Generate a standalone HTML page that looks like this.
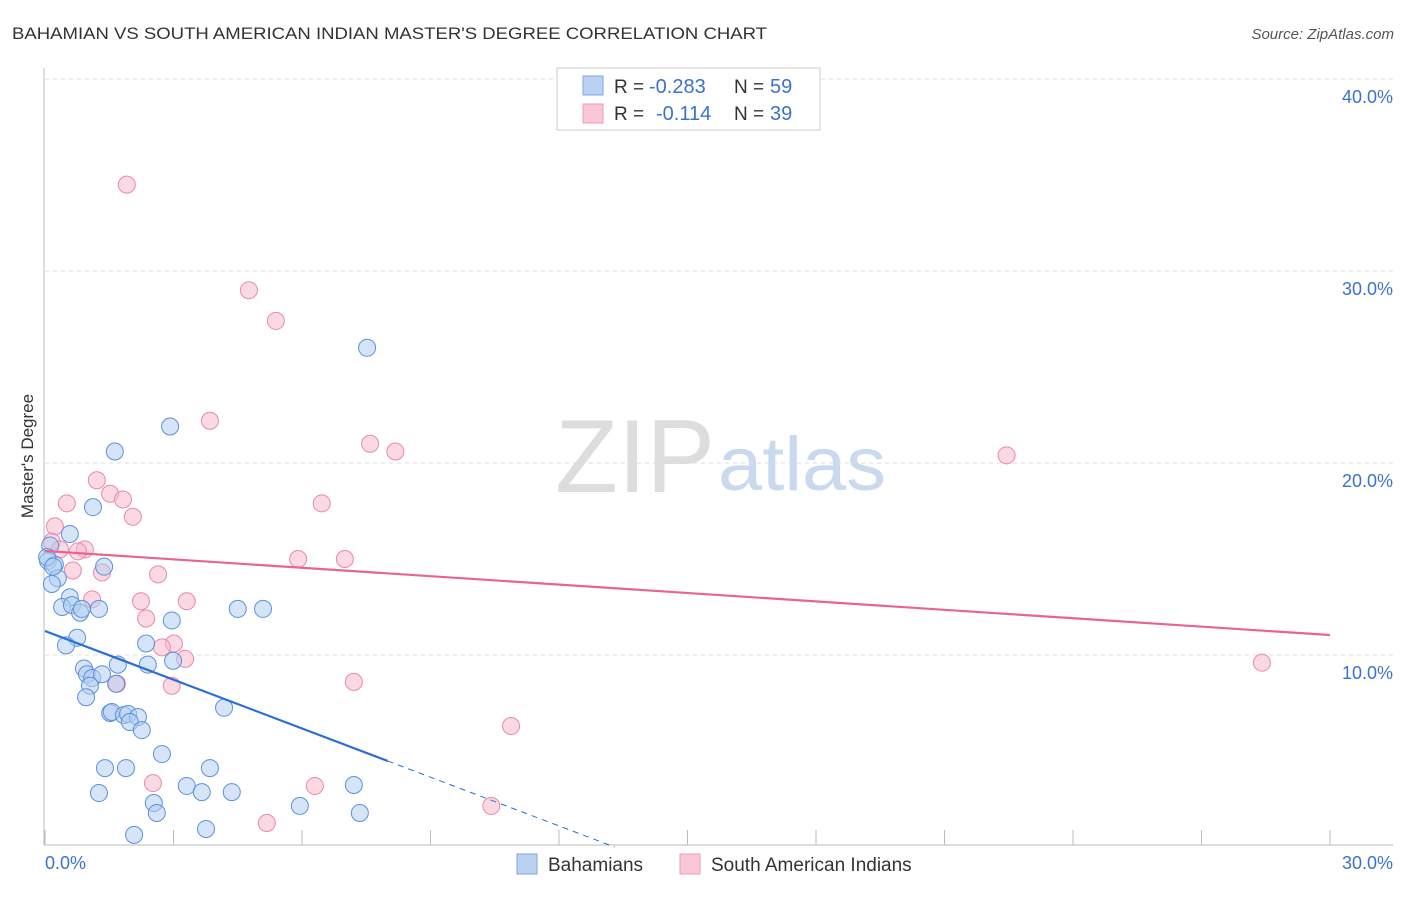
<!DOCTYPE html>
<html><head><meta charset="utf-8"><style>
body{margin:0;background:#fff;font-family:"Liberation Sans",sans-serif}
svg text{font-family:"Liberation Sans",sans-serif}
</style></head><body>
<svg id="chart" width="1406" height="892" xmlns="http://www.w3.org/2000/svg">
<text x="12" y="39" font-size="17" fill="#333" textLength="755" lengthAdjust="spacingAndGlyphs">BAHAMIAN VS SOUTH AMERICAN INDIAN MASTER'S DEGREE CORRELATION CHART</text>
<text x="1394" y="39" font-size="15" fill="#555" font-style="italic" text-anchor="end">Source: ZipAtlas.com</text>
<text x="555" y="492" font-size="104" fill="#ddd" font-family="Liberation Serif" textLength="160" lengthAdjust="spacingAndGlyphs">ZIP</text>
<text x="718" y="490" font-size="76" fill="#c9d9ef" textLength="168" lengthAdjust="spacingAndGlyphs">atlas</text>
<g id="grid"></g><g id="pts"></g><g id="lines"></g>
<text transform="translate(33,456) rotate(-90)" font-size="17" fill="#333" text-anchor="middle">Master's Degree</text>
<text x="45" y="869" font-size="18" fill="#3b73cc">0.0%</text>
<text x="1393" y="869" font-size="18" fill="#3b73cc" text-anchor="end">30.0%</text>
<g>
<rect x="557" y="68" width="263" height="62" fill="#fff" stroke="#ccc"/>
<rect x="583" y="76" width="20" height="19" fill="#b9d1f3" stroke="#7ea6e0"/>
<rect x="583" y="104" width="20" height="19" fill="#f9c7d6" stroke="#ec9bb5"/>
<text x="614" y="93" font-size="19" fill="#333">R =</text>
<text x="649" y="93" font-size="20" fill="#3b73cc">-0.283</text>
<text x="734" y="93" font-size="19" fill="#333">N =</text>
<text x="770" y="93" font-size="20" fill="#3b73cc">59</text>
<text x="614" y="120" font-size="19" fill="#333">R =</text>
<text x="656" y="120" font-size="20" fill="#3b73cc">-0.114</text>
<text x="734" y="120" font-size="19" fill="#333">N =</text>
<text x="770" y="120" font-size="20" fill="#3b73cc">39</text>
</g>
<g>
<rect x="517" y="854" width="20" height="20" fill="#b9d1f3" stroke="#7ea6e0"/>
<text x="548" y="871" font-size="19" fill="#333">Bahamians</text>
<rect x="680" y="854" width="20" height="20" fill="#f9c7d6" stroke="#ec9bb5"/>
<text x="711" y="871" font-size="19" fill="#333">South American Indians</text>
</g>
</svg>
<script>
const yTicks=[10,20,30,40];
const yTickLabels=["10.0%","20.0%","30.0%","40.0%"];
const xTicks=[0,3,6,9,12,15,18,21,24,27,30];
const bahamiansX=[7.52,2.92,1.63,1.12,0.58,0.12,0.07,0.23,0.30,0.16,1.38,0.58,0.40,0.63,0.82,0.86,1.26,4.50,5.09,2.96,0.75,0.49,2.36,2.40,2.99,0.91,1.70,0.98,1.10,1.33,1.05,1.66,0.96,4.18,1.52,1.56,1.84,1.94,2.17,1.98,2.26,2.73,1.40,1.89,3.85,1.26,3.31,3.66,4.36,7.21,2.54,2.61,5.95,7.35,2.08,3.76,0.05,0.19];
const bahamiansY=[26.0,21.9,20.6,17.7,16.3,15.7,14.9,14.7,14.0,13.7,14.6,13.0,12.5,12.6,12.2,12.4,12.4,12.4,12.4,11.8,10.9,10.5,10.6,9.5,9.7,9.3,9.5,9.0,8.8,9.0,8.4,8.5,7.8,7.25,6.98,7.03,6.87,6.93,6.77,6.51,6.09,4.84,4.11,4.11,4.11,2.81,3.18,2.86,2.86,3.23,2.29,1.77,2.14,1.77,0.63,0.94,15.1,14.6];
const indiansX=[1.91,4.76,5.39,3.85,7.59,8.18,22.45,1.21,1.52,1.82,0.51,2.05,0.23,0.16,0.93,0.35,0.77,5.91,7.00,6.46,1.33,0.65,2.64,2.24,3.31,1.10,2.36,3.01,2.73,3.27,1.68,2.96,7.21,10.88,2.52,6.30,10.42,5.18,28.41];
const indiansY=[34.5,29.0,27.4,22.2,21.0,20.6,20.4,19.1,18.4,18.1,17.9,17.2,16.7,15.9,15.5,15.5,15.4,15.0,15.0,17.9,14.3,14.4,14.2,12.8,12.8,12.9,11.9,10.6,10.4,9.8,8.5,8.4,8.6,6.3,3.33,3.18,2.14,1.25,9.6];
const blueFit=[11.25,-0.846], pinkFit=[15.42,-0.146];
const X=v=>45+v/30*1285, Y=v=>847-v*19.2;
const NS="http://www.w3.org/2000/svg";
function mk(tag,at,parent){const e=document.createElementNS(NS,tag);for(const k in at)e.setAttribute(k,at[k]);document.getElementById(parent).appendChild(e);return e;}
let ax=mk('line',{x1:44,y1:68,x2:44,y2:845,stroke:'#bbb'},'grid');


let bx=mk('line',{x1:44,y1:845,x2:1393,y2:845,stroke:'#bbb'},'grid');


yTicks.forEach((t,i)=>{
 let g=mk('line',{x1:45,x2:1393,y1:Y(t),y2:Y(t),stroke:'#ddd','stroke-dasharray':'4,4'},'grid');
 
 
 let tx=mk('text',{x:1393,y:Y(t)+24,'font-size':18,fill:'#3b73cc','text-anchor':'end'},'grid');
 tx.textContent=yTickLabels[i];
 
 
});
xTicks.forEach(t=>{
 let l=mk('line',{x1:X(t),x2:X(t),y1:830,y2:845,stroke:'#bbb'},'grid');
 
 
});
function pts(xs,ys,fill,stroke,name){xs.forEach((x,i)=>{
 let c=mk('circle',{cx:X(x),cy:Y(ys[i]),r:8.5,fill:fill,'fill-opacity':0.55,stroke:stroke,'stroke-width':1},'pts');
 
 
});}
pts(indiansX,indiansY,'#f7b9cc','#e889a8','south-american-indian-point');
pts(bahamiansX,bahamiansY,'#b3cdf1','#5b91dc','bahamian-point');
let pl=mk('line',{x1:X(0),y1:Y(pinkFit[0]),x2:X(30),y2:Y(pinkFit[0]+pinkFit[1]*30),stroke:'#e8648f','stroke-width':2.2},'lines');


let bl=mk('line',{x1:X(0),y1:Y(blueFit[0]),x2:X(8),y2:Y(blueFit[0]+blueFit[1]*8),stroke:'#2a6fd6','stroke-width':2.2},'lines');


let bd=mk('line',{x1:X(8),y1:Y(blueFit[0]+blueFit[1]*8),x2:X(13.3),y2:Y(blueFit[0]+blueFit[1]*13.3),stroke:'#2a6fd6','stroke-width':1,'stroke-dasharray':'6,5'},'lines');


</script>
</body></html>
